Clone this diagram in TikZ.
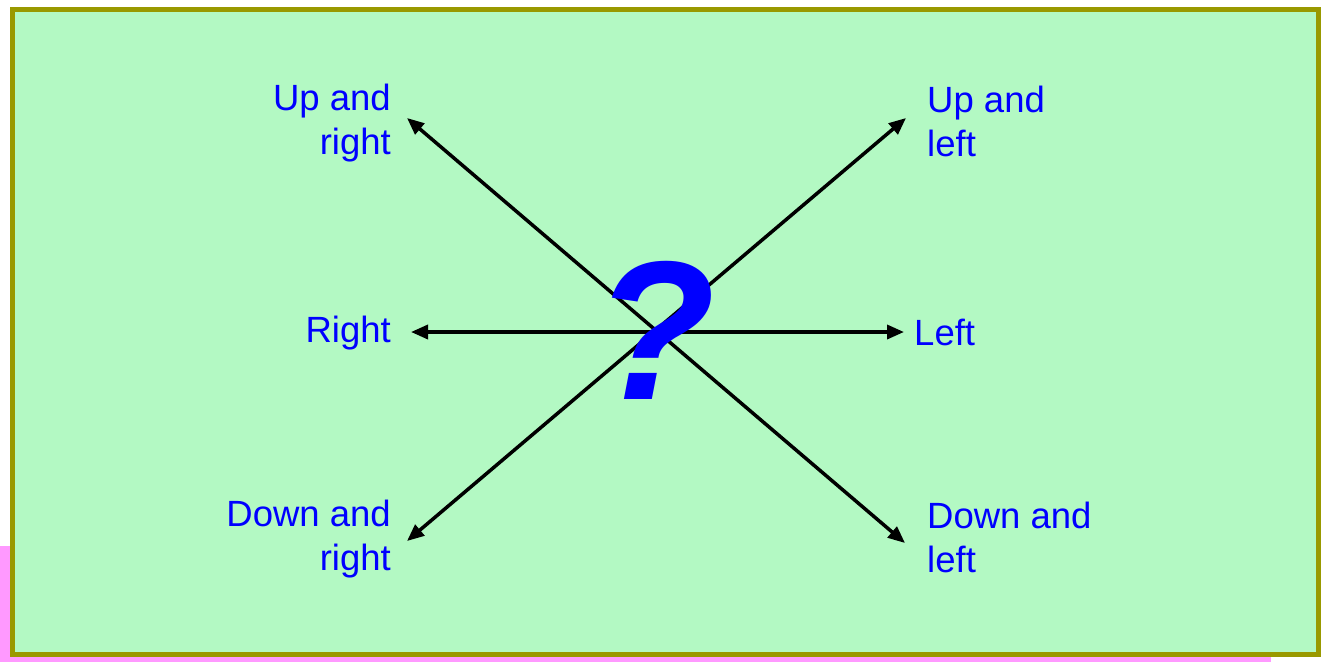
\documentclass[tikz,border=0pt]{standalone}
\usepackage{fontspec}
\setmainfont{Liberation Sans}
\usetikzlibrary{arrows.meta}
\definecolor{bggreen}{HTML}{B3F9C3}
\definecolor{olive}{HTML}{999900}
\definecolor{pinkbg}{HTML}{FF99FF}
\definecolor{txtblue}{HTML}{0000FF}
\tikzset{
  lbl/.style={text=txtblue, inner sep=0pt, font=\fontsize{36.5}{44}\selectfont},
  lblL/.style={lbl, align=right, anchor=east},
  lblR/.style={lbl, align=left, anchor=west},
  arr/.style={line width=3.5pt, {Triangle[length=17pt,width=14pt]}-{Triangle[length=17pt,width=14pt]}},
}
\begin{document}
\begin{tikzpicture}[x=1pt,y=-1pt]
\useasboundingbox (0,0) rectangle (1321,662);
\fill[white] (0,0) rectangle (1321,662);
\fill[pinkbg] (0,546) rectangle (1271,662);
\draw[olive, line width=5pt, fill=bggreen] (12.5,9.5) rectangle (1318.5,654.5);
\coordinate (ul) at (407,118);
\coordinate (lr) at (905,543);
\coordinate (ur) at (906,118);
\coordinate (ll) at (407,541);
\coordinate (l) at (411,332);
\coordinate (r) at (904,332);
\draw[arr] (ul) -- (lr);
\draw[arr] (ll) -- (ur);
\draw[arr] (l) -- (r);
\node[text=txtblue, font=\fontsize{198}{198}\bfseries\itshape, inner sep=0pt] (q) at (655,330) {?};
\node[lblL] (t1) at (391,123.5) {Up and\\right};
\node[lblL] (t2) at (391,333) {Right};
\node[lblL] (t3) at (391,539.5) {Down and\\right};
\node[lblR] (t4) at (927,121) {Up and\\left};
\node[lblR] (t5) at (914,332) {Left};
\node[lblR] (t6) at (927,537) {Down and\\left};
\end{tikzpicture}
\end{document}
